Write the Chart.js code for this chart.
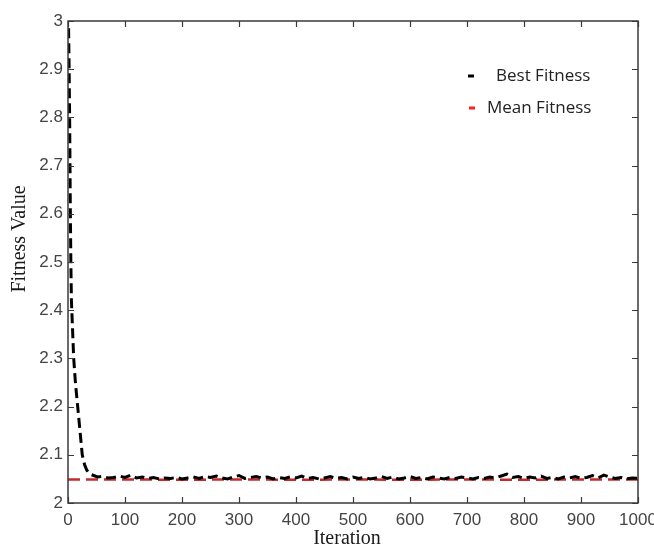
<!DOCTYPE html>
<html>
<head>
<meta charset="utf-8">
<script src="https://cdn.jsdelivr.net/npm/chart.js@4.4.1/dist/chart.umd.min.js"></script>
<style>
    html, body { margin: 0; padding: 0; background: #fff; }
    #wrap { width: 654px; height: 547px; }
</style>
</head>
<body>
<div id="wrap"><canvas id="fitnessChart" width="654" height="547"></canvas></div>
<script>
// Best fitness per iteration (black dashed)
const bestIterations = [
    1, 2, 3, 4, 5, 6, 8, 10, 13, 17, 21, 25, 29, 33, 38, 45, 52,
    60, 70, 80, 90, 100, 110, 120, 130, 140, 150, 160, 170, 180, 190,
    200, 210, 220, 230, 240, 250, 260, 270, 280, 290, 300, 310, 320, 330, 340,
    350, 360, 370, 380, 390, 400, 410, 420, 430, 440, 450, 460, 470, 480, 490,
    500, 510, 520, 530, 540, 550, 560, 570, 580, 590, 600, 610, 620, 630, 640,
    650, 660, 670, 680, 690, 700, 710, 720, 730, 740, 750, 760, 770, 780, 790,
    800, 810, 820, 830, 840, 850, 860, 870, 880, 890, 900, 910, 920, 930, 940,
    950, 960, 970, 980, 990, 1000
];
const bestFitness = [
    2.985, 2.9, 2.78, 2.62, 2.5, 2.42, 2.36, 2.3, 2.25, 2.2, 2.15, 2.1, 2.08, 2.068, 2.06, 2.057, 2.054,
    2.055, 2.052, 2.053, 2.056, 2.053, 2.058, 2.052, 2.054, 2.051, 2.053, 2.050, 2.052, 2.051, 2.053,
    2.050, 2.052, 2.054, 2.051, 2.055, 2.053, 2.056, 2.052, 2.050, 2.054, 2.057, 2.051, 2.053, 2.055, 2.052,
    2.054, 2.050, 2.053, 2.051, 2.054, 2.052, 2.056, 2.051, 2.053, 2.050, 2.052, 2.055, 2.051, 2.053, 2.050,
    2.054, 2.051, 2.053, 2.050, 2.052, 2.055, 2.051, 2.054, 2.050, 2.052, 2.055, 2.051, 2.053, 2.050, 2.054,
    2.052, 2.050, 2.053, 2.051, 2.054, 2.052, 2.050, 2.053, 2.051, 2.054, 2.052, 2.056, 2.060, 2.053, 2.055,
    2.051, 2.054, 2.052, 2.056, 2.051, 2.053, 2.050, 2.054, 2.052, 2.055, 2.051, 2.053, 2.057, 2.052, 2.058,
    2.054, 2.051, 2.053, 2.050, 2.052, 2.051
];

// Mean fitness (red dashed)
const meanIterations = [0, 100, 200, 300, 400, 500, 600, 700, 800, 900, 1000];
const meanFitness = [2.049, 2.049, 2.048, 2.049, 2.048, 2.049, 2.048, 2.049, 2.048, 2.049, 2.049];

const xTicks = [0, 100, 200, 300, 400, 500, 600, 700, 800, 900, 1000];
const yTicks = [2, 2.1, 2.2, 2.3, 2.4, 2.5, 2.6, 2.7, 2.8, 2.9, 3];

const frameColor = '#3a3a3a';
const tickFont = { family: "'Liberation Sans', Arial, sans-serif", size: 17 };

// frame, inward ticks, axis titles and legend
const framePlugin = {
    id: 'frame',
    afterDraw(chart) {
        const ctx = chart.ctx;
        const a = chart.chartArea;
        const xs = chart.scales.x;
        const ys = chart.scales.y;
        ctx.save();
        ctx.strokeStyle = frameColor;
        ctx.lineWidth = 1.5;
        ctx.strokeRect(a.left, a.top, a.right - a.left, a.bottom - a.top);

        ctx.lineWidth = 1.2;
        ctx.beginPath();
        xTicks.forEach(v => {
            const px = Math.round(xs.getPixelForValue(v)) + 0.5;
            ctx.moveTo(px, a.bottom); ctx.lineTo(px, a.bottom - 6);
            ctx.moveTo(px, a.top); ctx.lineTo(px, a.top + 6);
        });
        yTicks.forEach(v => {
            const py = Math.round(ys.getPixelForValue(v)) + 0.5;
            ctx.moveTo(a.left, py); ctx.lineTo(a.left + 6, py);
            ctx.moveTo(a.right, py); ctx.lineTo(a.right - 6, py);
        });
        ctx.stroke();

        // axis titles
        ctx.fillStyle = '#1a1a1a';
        ctx.font = "20px 'Liberation Serif', 'Times New Roman', serif";
        ctx.textAlign = 'center';
        ctx.textBaseline = 'middle';
        ctx.fillText('Iteration', 347, 539);
        ctx.translate(20, 239);
        ctx.rotate(-Math.PI / 2);
        ctx.fillText('Fitness Value', 0, 0);
        ctx.setTransform(1, 0, 0, 1, 0, 0);

        // legend
        const rows = [
            { markX: 468, textX: 496, y: 76 },
            { markX: 469, textX: 487, y: 108 }
        ];
        ctx.font = "17px 'Open Sans', sans-serif";
        ctx.textAlign = 'left';
        chart.data.datasets.forEach((ds, i) => {
            const r = rows[i];
            ctx.strokeStyle = ds.legendColor;
            ctx.lineWidth = 3;
            ctx.beginPath();
            ctx.moveTo(r.markX, r.y);
            ctx.lineTo(r.markX + 6, r.y);
            ctx.stroke();
            ctx.fillStyle = '#222';
            ctx.fillText(ds.label, r.textX, r.y);
        });
        ctx.restore();
    }
};

const ctx = document.getElementById('fitnessChart').getContext('2d');
new Chart(ctx, {
    type: 'line',
    data: {
        datasets: [{
            label: 'Best Fitness',
            data: bestIterations.map((it, i) => ({ x: it, y: bestFitness[i] })),
            borderColor: '#000',
            legendColor: '#000',
            borderWidth: 3,
            borderDash: [10, 5],
            pointRadius: 0,
            tension: 0,
            order: 0
        }, {
            label: 'Mean Fitness',
            data: meanIterations.map((it, i) => ({ x: it, y: meanFitness[i] })),
            borderColor: '#c42a2a',
            legendColor: '#ff2020',
            borderWidth: 2.5,
            borderDash: [12, 6],
            pointRadius: 0,
            tension: 0,
            order: 1
        }]
    },
    options: {
        responsive: false,
        animation: false,
        devicePixelRatio: 1,
        layout: { padding: { left: 0, right: 16, top: 21, bottom: 0 } },
        plugins: {
            legend: { display: false },
            tooltip: { enabled: false }
        },
        scales: {
            x: {
                type: 'linear',
                min: 0,
                max: 1000,
                afterFit: s => { s.height = 44; s.paddingRight = 0; s.paddingLeft = 0; },
                afterBuildTicks: s => { s.ticks = xTicks.map(v => ({ value: v })); },
                grid: { display: false, drawTicks: false },
                border: { display: false },
                ticks: {
                    font: tickFont,
                    color: '#444',
                    padding: 7,
                    maxRotation: 0,
                    callback: v => String(v)
                }
            },
            y: {
                type: 'linear',
                min: 2,
                max: 3,
                afterFit: s => { s.width = 68; s.paddingTop = 0; s.paddingBottom = 0; },
                afterBuildTicks: s => { s.ticks = yTicks.map(v => ({ value: v })); },
                grid: { display: false, drawTicks: false },
                border: { display: false },
                ticks: {
                    font: tickFont,
                    color: '#444',
                    padding: 5,
                    callback: v => String(Number(v.toFixed(1)))
                }
            }
        }
    },
    plugins: [framePlugin]
});
</script>
</body>
</html>
